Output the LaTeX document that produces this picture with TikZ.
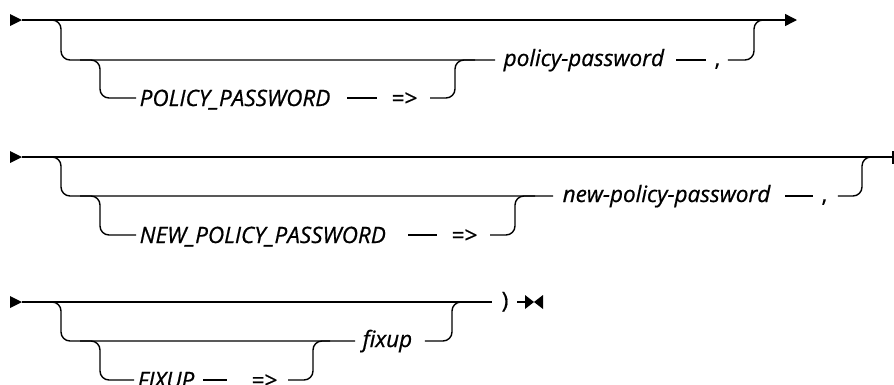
\documentclass[tikz,border=0pt]{standalone}
\usepackage{fontspec}
\setmainfont{Open Sans}[FakeBold=0.7]
\usetikzlibrary{arrows.meta}
\begin{document}
\begin{tikzpicture}[x=1pt,y=-1pt,line width=1.4pt,
  rr/.style={rounded corners=9pt},
  txtfont/.style={font=\fontsize{22.5}{26}\selectfont},
  lc/.style={txtfont,inner sep=0pt,anchor=west,text height=14pt,text depth=2pt},
  uc/.style={txtfont,inner sep=0pt,anchor=west,text height=16.6pt,text depth=0.6pt},
  ital/.style={font=\itshape\fontsize{22.5}{26}\selectfont},
  startmark/.style={fill=black},
  endarrow/.style={-{Triangle[length=12pt,width=12pt]}}
]
\useasboundingbox (0,0) rectangle (894,384);

% ---------------- Row 1 ----------------
\fill[startmark] (10,14) -- (22,20) -- (10,26) -- cycle;
\coordinate (s1) at (22,20);
\coordinate (e1) at (797,20);
\draw[endarrow] (s1) -- (e1);
\node[lc,ital] (pp) at (503,60) {policy-password};
\node[uc,ital] (PP) at (139,98) {POLICY\_PASSWORD};
\node[uc] (ar1) at (391,98) {=>};
\node[lc] (cm1) at (714,60) {,};
\draw[rr] (40,20) -| (61,60) -- ([xshift=-8pt]pp.west);
\draw[rr] (80,60) -| (100,98) -- ([xshift=-3pt]PP.west);
\draw ([xshift=-44pt]ar1.west) -- ([xshift=-14pt]ar1.west);
\draw[rr] ([xshift=12pt]ar1.east) -| (455,60) -- (475,60);
\draw ([xshift=-38pt]cm1.west) -- ([xshift=-8pt]cm1.west);
\draw[rr] ([xshift=7pt]cm1.east) -| (754,20) -- (772,20);

% ---------------- Row 2 ----------------
\fill[startmark] (10,151) -- (22,157) -- (10,163) -- cycle;
\coordinate (s2) at (22,157);
\coordinate (e2) at (893,157);
\draw (s2) -- (e2);
\draw (893,151) -- (893,164);
\node[lc,ital] (npp) at (562,196) {new-policy-password};
\node[uc,ital] (NPP) at (139,235) {NEW\_POLICY\_PASSWORD};
\node[uc] (ar2) at (451,235) {=>};
\node[lc] (cm2) at (821,196) {,};
\draw[rr] (40,157) -| (61,196) -- ([xshift=-9pt]npp.west);
\draw[rr] (80,196) -| (100,235) -- ([xshift=-3pt]NPP.west);
\draw ([xshift=-43pt]ar2.west) -- ([xshift=-14pt]ar2.west);
\draw[rr] ([xshift=12pt]ar2.east) -| (515,196) -- (535,196);
\draw ([xshift=-36pt]cm2.west) -- ([xshift=-8pt]cm2.west);
\draw[rr] ([xshift=10pt]cm2.east) -| (862,157) -- (880,157);

% ---------------- Row 3 ----------------
\fill[startmark] (10,296) -- (22,302) -- (10,308) -- cycle;
\coordinate (s3) at (22,302);
\node[lc] (rp) at (501,302) {)};
\draw (s3) -- ([xshift=-9pt]rp.west);
\node[lc,ital] (fx) at (362,341) {fixup};
\node[uc,ital] (FX) at (137,380) {FIXUP};
\node[uc] (ar3) at (251,380) {=>};
\draw[rr] (40,302) -| (61,341) -- ([xshift=-7pt]fx.west);
\draw[rr] (80,341) -| (100,380) -- ([xshift=-3pt]FX.west);
\draw ([xshift=-48pt]ar3.west) -- ([xshift=-24pt]ar3.west);
\draw[rr] ([xshift=10pt]ar3.east) -| (313,341) -- (330,341);
\draw[rr] ([xshift=12pt]fx.east) -| (452,302) -- (470,302);
\coordinate (m3) at (525,302);
\draw ([xshift=8pt]rp.east) -- (m3);
\fill (525,295) -- (534,302) -- (525,309) -- cycle;
\fill (543,295) -- (534,302) -- (543,309) -- cycle;
\end{tikzpicture}
\end{document}
